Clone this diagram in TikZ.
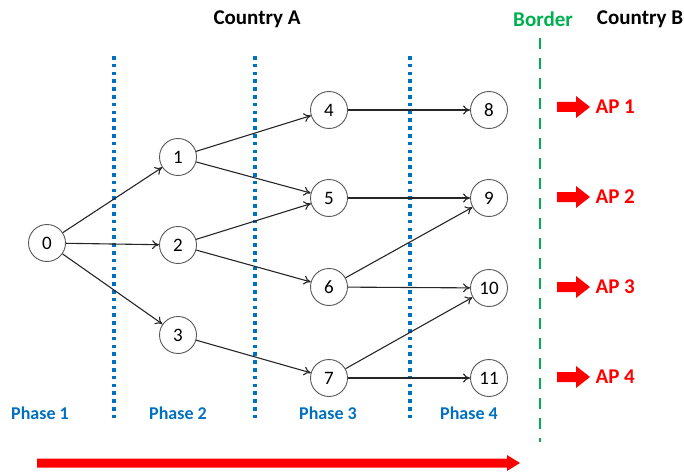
\documentclass[tikz,border=0pt]{standalone}
\usepackage{fontspec}
\setmainfont{Carlito}
\usetikzlibrary{arrows.meta}
\definecolor{phaseblue}{RGB}{0,112,192}
\definecolor{bordergreen}{RGB}{0,176,80}
\definecolor{apred}{RGB}{255,0,0}
\tikzset{
  st/.style={circle,draw=black!65,line width=0.9pt,minimum size=37pt,inner sep=0pt,font=\fontsize{19}{21}\selectfont},
  edge/.style={line width=1.1pt,black!85,-{To[length=7pt,width=9pt]}},
  phaseline/.style={phaseblue,line width=3.5pt,dash pattern=on 3.6pt off 4.2pt},
  borderline/.style={bordergreen,line width=2.6pt,dash pattern=on 11pt off 9pt},
  title/.style={font=\fontsize{21}{24}\selectfont\bfseries},
  phaselbl/.style={font=\fontsize{18}{20}\selectfont\bfseries,text=phaseblue},
  aplbl/.style={font=\fontsize{21}{24}\selectfont\bfseries,text=apred,anchor=west},
  bigarrow/.style={fill=apred,draw=none}
}
\begin{document}
\begin{tikzpicture}[x=1pt,y=-1pt]
\useasboundingbox (0,0) rectangle (684,473);
% phase separators
\draw[phaseline] (114,56) -- (114,422);
\draw[phaseline] (255,56) -- (255,422);
\draw[phaseline] (410,56) -- (410,422);
\draw[borderline] (540,38) -- (540,442);
% titles
\node[title] (ca) at (257,19) {Country A};
\node[title,text=bordergreen] (bd) at (543,19) {Border};
\node[title] (cb) at (640,19) {Country B};
% nodes
\node[st] (n0) at (47,243) {0};
\node[st] (n1) at (178,157) {1};
\node[st] (n2) at (178,245) {2};
\node[st] (n3) at (178,335) {3};
\node[st] (n4) at (329,110) {4};
\node[st] (n5) at (329,198) {5};
\node[st] (n6) at (329,287) {6};
\node[st] (n7) at (329,378) {7};
\node[st] (n8) at (489,110) {8};
\node[st] (n9) at (489,198) {9};
\node[st] (n10) at (489,288) {10};
\node[st] (n11) at (489,378) {11};
% edges
\draw[edge] (n0) -- (n1);
\draw[edge] (n0) -- (n2);
\draw[edge] (n0) -- (n3);
\draw[edge] (n1) -- (n4);
\draw[edge] (n1) -- (n5);
\draw[edge] (n2) -- (n5);
\draw[edge] (n2) -- (n6);
\draw[edge] (n3) -- (n7);
\draw[edge] (n4) -- (n8);
\draw[edge] (n5) -- (n9);
\draw[edge] (n6) -- (n9);
\draw[edge] (n6) -- (n10);
\draw[edge] (n7) -- (n10);
\draw[edge] (n7) -- (n11);
% AP arrows and labels
\foreach \y/\t in {107/1,197/2,287/3,377/4}{
  \fill[apred] (557,\y-5) -- (576,\y-5) -- (576,\y-11) -- (590,\y) -- (576,\y+11) -- (576,\y+5) -- (557,\y+5) -- cycle;
  \node[aplbl] (ap\t) at (592,\y) {AP \t};
}
% phase labels
\node[phaselbl] (p1) at (40,413) {Phase 1};
\node[phaselbl] (p2) at (178,413) {Phase 2};
\node[phaselbl] (p3) at (328,413) {Phase 3};
\node[phaselbl] (p4) at (469,413) {Phase 4};
% time arrow
\fill[apred] (37,458.5) -- (507,458.5) -- (507,455) -- (520,463) -- (507,471) -- (507,467.5) -- (37,467.5) -- cycle;
\end{tikzpicture}
\end{document}
